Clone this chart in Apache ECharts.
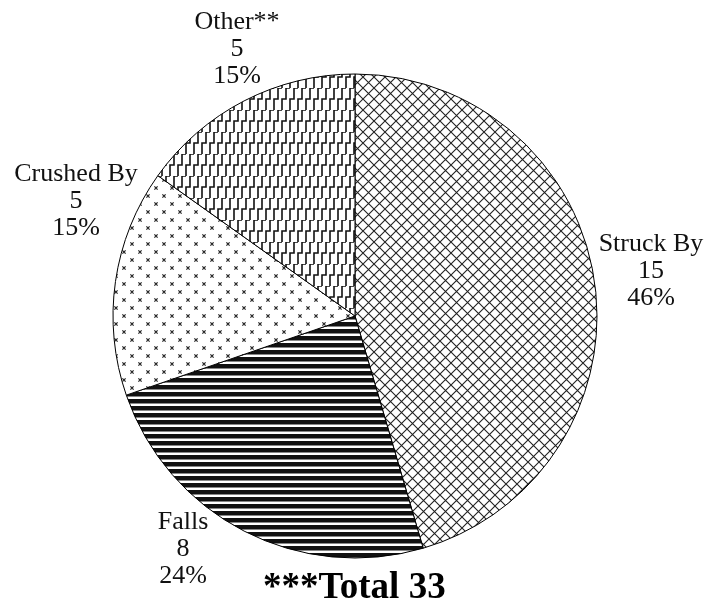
<!DOCTYPE html>
<html>
	<head>
		<meta charset="utf-8">
		<title></title>
	</head>
	<style type="text/css">
		html, body { margin: 0; padding: 0; background: #fff; }
		#graphical { width: 726px; height: 609px; }
	</style>
	<body>
		<div id="graphical"></div>
		<script src="https://cdn.jsdelivr.net/npm/echarts@6/dist/echarts.min.js" type="text/javascript" charset="utf-8"></script>
		<script type="text/javascript">
			var categories = ['Struck By', 'Falls', 'Crushed By', 'Other**'];
			var counts = [15, 8, 5, 5];
			var totalLabel = '***Total 33';

			// fill patterns drawn on small canvases
			function makeTile(w, h, draw) {
				var c = document.createElement('canvas');
				c.width = w;
				c.height = h;
				var ctx = c.getContext('2d');
				ctx.fillStyle = '#fff';
				ctx.fillRect(0, 0, w, h);
				draw(ctx, w, h);
				return c;
			}
			var crossHatch = makeTile(11, 11, function(ctx, w, h) {
				ctx.strokeStyle = '#222';
				ctx.lineWidth = 1.1;
				ctx.beginPath();
				ctx.moveTo(0, 0); ctx.lineTo(w, h);
				ctx.moveTo(w, 0); ctx.lineTo(0, h);
				ctx.stroke();
			});
			var stripes = makeTile(8, 7, function(ctx, w, h) {
				ctx.fillStyle = '#111';
				ctx.fillRect(0, 0, w, 4.5);
			});
			var crosses = makeTile(16, 16, function(ctx, w, h) {
				ctx.strokeStyle = '#222';
				ctx.lineWidth = 1.2;
				[[4, 4], [12, 12]].forEach(function(p) {
					ctx.beginPath();
					ctx.moveTo(p[0] - 1.6, p[1] - 1.6); ctx.lineTo(p[0] + 1.6, p[1] + 1.6);
					ctx.moveTo(p[0] + 1.6, p[1] - 1.6); ctx.lineTo(p[0] - 1.6, p[1] + 1.6);
					ctx.stroke();
				});
			});
			// staircase lines, two steps per tile
			var steps = makeTile(8, 22, function(ctx, w, h) {
				ctx.strokeStyle = '#111';
				ctx.lineWidth = 1.6;
				for (var k = -1; k <= 1; k++) {
					var c = 2 + k * w;
					ctx.beginPath();
					ctx.moveTo(c + 8, 0);
					ctx.lineTo(c + 4, 0);
					ctx.lineTo(c + 4, 11);
					ctx.lineTo(c, 11);
					ctx.lineTo(c, 22);
					ctx.stroke();
				}
			});
			var fills = [crossHatch, stripes, crosses, steps];

			// label centres
			var labelPos = [[651, 271], [183, 549], [76, 201], [237, 49]];

			var chart = echarts.init(document.getElementById('graphical'));
			var option = {
				backgroundColor: '#fff',
				animation: false,
				title: {
					text: totalLabel,
					left: 258,
					top: 565,
					textStyle: {
						fontFamily: 'Liberation Serif',
						fontWeight: 'bold',
						fontSize: 37,
						color: '#000'
					}
				},
				series: [{
					type: 'pie',
					center: [355, 316],
					radius: 242,
					startAngle: 90,
					clockwise: true,
					percentPrecision: 0,
					label: {
						show: true,
						position: 'outside',
						alignTo: 'none',
						overflow: 'none',
						bleedMargin: 0,
						formatter: '{b}\n{c}\n{d}%',
						fontFamily: 'Liberation Serif',
						fontSize: 26,
						lineHeight: 27,
						color: '#111',
						align: 'center'
					},
					labelLine: { show: false },
					labelLayout: function(params) {
						var p = labelPos[params.dataIndex];
						return { x: p[0], y: p[1], align: 'center', verticalAlign: 'middle' };
					},
					itemStyle: {
						borderColor: '#000',
						borderWidth: 1
					},
					emphasis: { disabled: true },
					data: categories.map(function(name, i) {
						return {
							name: name,
							value: counts[i],
							itemStyle: { color: { image: fills[i], repeat: 'repeat' } }
						};
					})
				}]
			};
			chart.setOption(option);
			window.onresize = function() {
				chart.resize();
			}
		</script>
	</body>
</html>
